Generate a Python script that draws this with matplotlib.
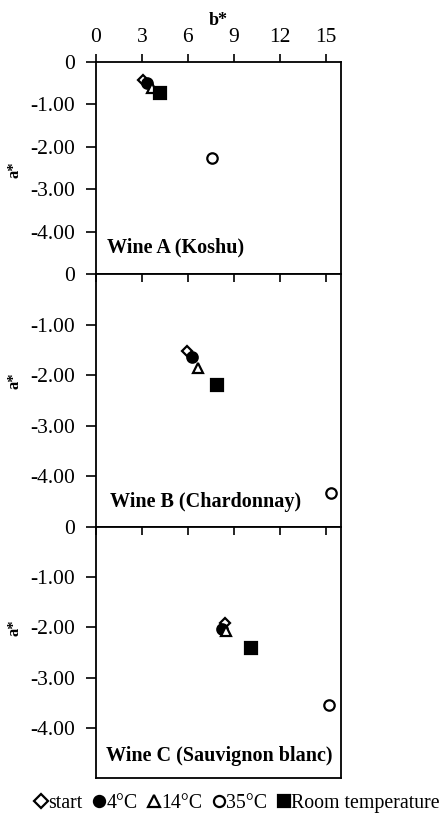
import matplotlib
matplotlib.use("Agg")
import matplotlib.pyplot as plt
from matplotlib.ticker import FuncFormatter
from matplotlib.lines import Line2D

plt.rcParams['font.family'] = ['Liberation Serif', 'DejaVu Serif']

# b* (x) and a* (y) per wine, in order: start, 4C, 14C, 35C, room temperature
conditions = ['start', '4°C', '14°C', '35°C', 'Room temperature']
wine_names = ['Wine A (Koshu)', 'Wine B (Chardonnay)', 'Wine C (Sauvignon blanc)']
b_star = [
    [3.07, 3.30, 3.65, 7.59, 4.17],
    [5.96, 6.24, 6.67, 15.33, 7.87],
    [8.41, 8.26, 8.50, 15.20, 10.09],
]
a_star = [
    [-0.43, -0.50, -0.61, -2.26, -0.74],
    [-1.52, -1.64, -1.85, -4.32, -2.20],
    [-1.92, -2.03, -2.08, -3.55, -2.41],
]
x_ticks = [0, 3, 6, 9, 12, 15]
y_ticks = [0, -1, -2, -3, -4]

# marker, face colour, size
styles = [('D', 'white', 6.5), ('o', 'black', 7.5), ('^', 'white', 7.5),
          ('o', 'white', 7.5), ('s', 'black', 8.5)]

fig = plt.figure(figsize=(4.44, 8.23), dpi=100)
left, width = 96 / 444, 245 / 444
boxes = [(274, 212), (527, 253), (778, 251)]
label_pos = [(0.045, 0.127), (0.057, 0.10), (0.04, 0.088)]
ylab_y = [0.49, 0.58, 0.60]

def fmt(v, pos):
    return '0' if abs(v) < 1e-9 else '%.2f' % v

for i in range(3):
    bottom, h = boxes[i]
    ax = fig.add_axes([left, (823 - bottom) / 823, width, h / 823])
    for j in range(5):
        m, fc, ms = styles[j]
        ax.plot(b_star[i][j], a_star[i][j], linestyle='none', marker=m,
                markersize=ms if m != 'D' else ms * 0.85, markerfacecolor=fc,
                markeredgecolor='black', markeredgewidth=1.6, zorder=3 + j)
    ax.set_xlim(0, 16)
    ax.set_ylim(-5, 0)
    ax.set_xticks(x_ticks)
    ax.set_yticks(y_ticks)
    ax.yaxis.set_major_formatter(FuncFormatter(fmt))
    ax.xaxis.tick_top()
    if i == 0:
        ax.tick_params(axis='x', direction='out', length=6, width=1.2,
                       labelsize=15.5, pad=5)
        ax.set_xlabel('b*', fontsize=13, fontweight='bold', labelpad=2)
        ax.xaxis.set_label_position('top')
    else:
        ax.tick_params(axis='x', direction='in', length=6, width=1.2,
                       labeltop=False)
    ax.tick_params(axis='y', direction='out', length=7, width=1.2,
                   labelsize=15.5, pad=8)
    for s in ax.spines.values():
        s.set_linewidth(1.3)
    ax.set_ylabel('a*', fontsize=12, fontweight='bold')
    ax.yaxis.set_label_coords(-0.30, ylab_y[i])
    ax.text(label_pos[i][0], label_pos[i][1], wine_names[i],
            transform=ax.transAxes, fontsize=14.5, fontweight='bold',
            va='center', ha='left')

handles = [Line2D([], [], linestyle='none', marker=styles[j][0],
                  markersize=8 if styles[j][0] != 'D' else 7,
                  markerfacecolor=styles[j][1], markeredgecolor='black',
                  markeredgewidth=1.6) for j in range(5)]
fig.legend(handles, conditions, loc='center', bbox_to_anchor=(0.535, 0.024),
           ncol=5, frameon=False, fontsize=14.3, handlelength=0.6,
           handletextpad=0.05, columnspacing=0.55, borderaxespad=0)

fig.savefig('out.png', dpi=100)
